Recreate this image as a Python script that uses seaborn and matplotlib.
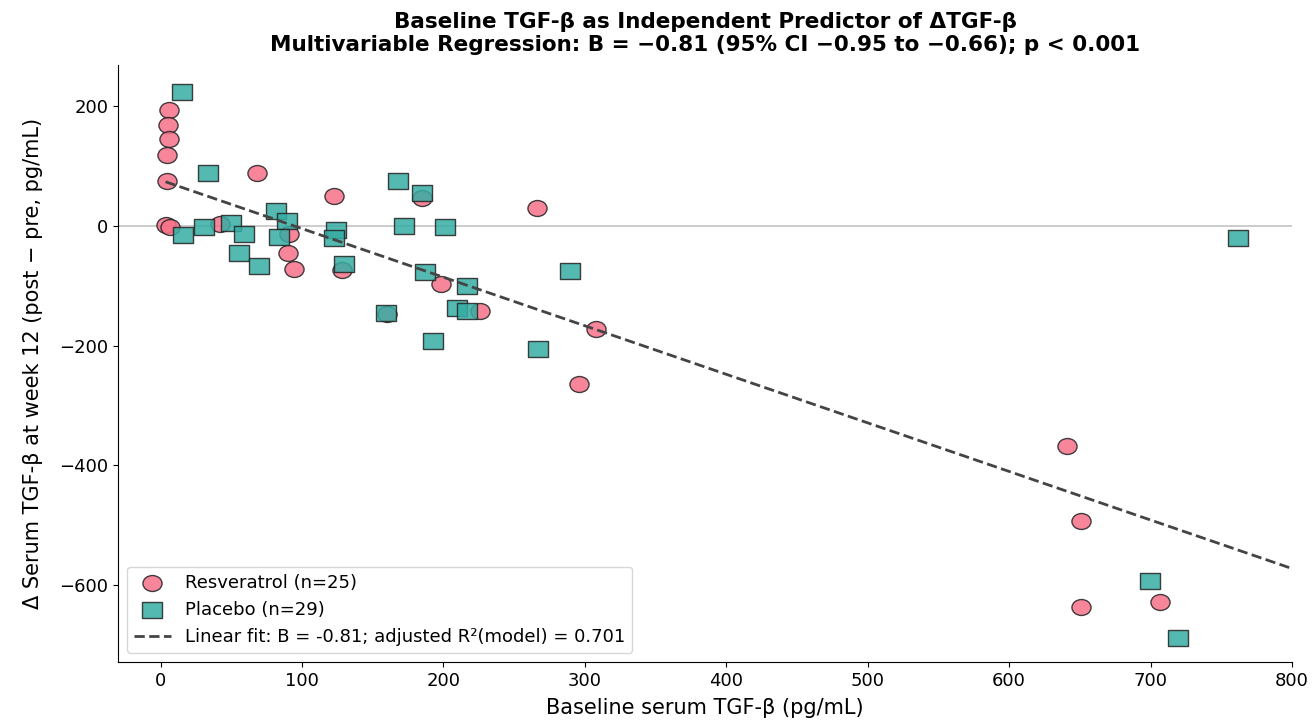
import numpy as np
import pandas as pd
import matplotlib
matplotlib.use("Agg")
import matplotlib.pyplot as plt
from matplotlib.path import Path
from matplotlib.transforms import Affine2D
import seaborn as sns

# baseline TGF-b (x) and change at week 12 (y)
res_baseline = [5.9, 5.4, 5.9, 4.2, 4.2, 3.5, 6.6, 68, 42, 91, 90, 94, 122.5, 128,
                184.5, 198.5, 160, 266, 226, 308, 296, 641, 651, 651, 707]
res_delta = [193, 168, 145, 118, 75, 1, -2, 88, 3, -14, -45, -73, 49.5, -74,
             45.5, -98, -147, 29.5, -143, -172, -264, -368, -493, -636, -628]

pla_baseline = [14.8, 33.4, 16, 30.6, 49.5, 59, 55.6, 69.7, 81.7, 89.5, 83.6, 124.2,
                122.5, 129.6, 167.7, 184.5, 172.4, 201.4, 186.8, 159.7, 192.7, 216.7,
                209.7, 216.7, 289.8, 266.6, 699.6, 719.2, 762]
pla_delta = [223, 87, -15, -3, 4, -14, -46, -67, 24, 7, -19.5, -7, -20.5, -64, 74,
             54, 0, -2, -77, -145, -193, -100, -137, -142, -76, -205, -593, -688, -20]

slope = -0.81
intercept = 76
adj_r2 = 0.701

df = pd.concat([
    pd.DataFrame({"baseline": res_baseline, "delta": res_delta, "group": "Resveratrol"}),
    pd.DataFrame({"baseline": pla_baseline, "delta": pla_delta, "group": "Placebo"}),
])

sns.set_style("ticks")
plt.rcParams.update({"text.color": "black", "axes.labelcolor": "black",
                     "xtick.color": "black", "ytick.color": "black",
                     "axes.edgecolor": "black"})

fig, ax = plt.subplots(figsize=(13.13, 7.22), dpi=100)
fig.subplots_adjust(left=0.09, right=0.984, bottom=0.083, top=0.91)

ax.axhline(0, color="#c8c8c8", lw=1.3, zorder=0)

# the source picture is a bit wider than tall, so widen the markers too
wide = Affine2D().scale(1.2, 1.0)
oval = Path.unit_circle().transformed(wide)
box = Path([(-1, -1), (1, -1), (1, 1), (-1, 1), (-1, -1)],
           [Path.MOVETO, Path.LINETO, Path.LINETO, Path.LINETO, Path.CLOSEPOLY]
           ).transformed(Affine2D().scale(1.13, 1.0))

colors = {"Resveratrol": "#f77189", "Placebo": "#36ada4"}
markers = {"Resveratrol": oval, "Placebo": box}
counts = df["group"].value_counts()
for g in ["Resveratrol", "Placebo"]:
    sub = df[df["group"] == g]
    sns.scatterplot(data=sub, x="baseline", y="delta", ax=ax, color=colors[g],
                    marker=markers[g], s=190, alpha=0.85, edgecolor="#222222",
                    linewidth=1.0, label=f"{g} (n={counts[g]})", zorder=3)

xfit = np.array([df["baseline"].min(), 800])
ax.plot(xfit, intercept + slope * xfit, ls="--", color="#444444", lw=2, zorder=4,
        label=f"Linear fit: B = {slope:.2f}; adjusted R²(model) = {adj_r2:.3f}")

ax.set_xlim(-30, 800)
ax.set_ylim(-728, 268)
ax.set_yticks([200, 0, -200, -400, -600])
ax.tick_params(labelsize=13)
ax.set_xlabel("Baseline serum TGF-β (pg/mL)", fontsize=15, labelpad=6)
ax.set_ylabel("Δ Serum TGF-β at week 12 (post − pre, pg/mL)", fontsize=15,
              labelpad=12)
ax.set_title("Baseline TGF-β as Independent Predictor of ΔTGF-β\n"
             "Multivariable Regression: B = −0.81 (95% CI −0.95 to −0.66); p < 0.001",
             fontsize=15.5, fontweight="bold", pad=10)
ax.legend(loc="lower left", fontsize=13, frameon=True)
sns.despine(ax=ax)

fig.savefig("out.png", dpi=100)
